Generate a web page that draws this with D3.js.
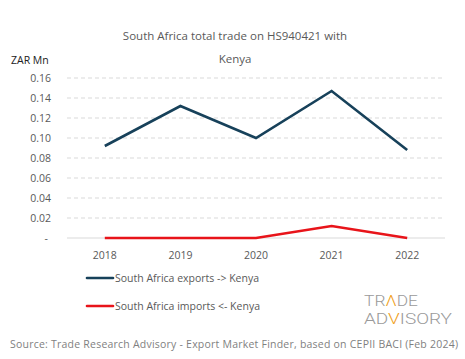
<!DOCTYPE html>
<html><head><meta charset="utf-8">
<script src="https://cdn.jsdelivr.net/npm/d3@7"></script>
<style>body{margin:0;background:#fff}svg{display:block}</style>
</head><body>
<svg id="c" width="465" height="359"></svg>
<script>
const years = ["2018","2019","2020","2021","2022"];
const exportsKenya = [0.092, 0.132, 0.100, 0.147, 0.088];
const importsKenya = [0.0, 0.0, 0.0, 0.012, 0.0];
const yTicks = [0, 0.02, 0.04, 0.06, 0.08, 0.10, 0.12, 0.14, 0.16];
const seriesNames = ["South Africa exports -> Kenya", "South Africa imports <- Kenya"];
const seriesColors = ["#17415a", "#e8141a"];

const svg = d3.select("#c");
const font = "'Open Sans', sans-serif";
const x = d3.scaleBand().domain(years).range([67, 445]);
const y = d3.scaleLinear().domain([0, 0.16]).range([238, 78]);

svg.append("text").attr("x", 235).attr("y", 40).attr("text-anchor","middle")
  .attr("font-family", font).attr("font-size", 11.5).attr("fill","#595959")
  .text("South Africa total trade on HS940421 with");
svg.append("text").attr("x", 235).attr("y", 63).attr("text-anchor","middle")
  .attr("font-family", font).attr("font-size", 11.5).attr("fill","#595959")
  .text("Kenya");
svg.append("text").attr("x", 11).attr("y", 64)
  .attr("font-family", font).attr("font-size", 10.5).attr("fill","#222")
  .text("ZAR Mn");

// grid
const g = svg.append("g");
g.selectAll("line.grid").data(yTicks).join("line")
  .attr("x1", 67).attr("x2", 445)
  .attr("y1", d => y(d)).attr("y2", d => y(d))
  .attr("stroke", "#d9d9d9")
  .attr("stroke-width", 1)
  .attr("stroke-dasharray", d => d === 0 ? null : "4,3");

// y axis labels
const yAxis = d3.axisLeft(y).tickValues(yTicks).tickSize(0).tickPadding(0)
  .tickFormat(d => d === 0 ? "-" : d3.format(".2f")(d));
const ya = svg.append("g").attr("transform","translate(51,0)").call(yAxis);
ya.select(".domain").remove();
ya.selectAll("text").attr("font-family", font).attr("font-size", 10.5).attr("fill","#595959")
  .attr("dy","0.35em");
ya.selectAll(".tick text").filter(d => d === 0).attr("dx", -3);

// x axis labels
const xAxis = d3.axisBottom(x).tickSize(0).tickPadding(0);
const xa = svg.append("g").attr("transform","translate(0,252)").call(xAxis);
xa.select(".domain").remove();
xa.selectAll("text").attr("font-family", font).attr("font-size", 10.5).attr("fill","#595959");

const line = d3.line().x((d,i) => x(years[i]) + x.bandwidth()/2).y(d => y(d));
[exportsKenya, importsKenya].forEach((s, k) => {
  svg.append("path").datum(s).attr("d", line).attr("fill","none")
    .attr("stroke", seriesColors[k]).attr("stroke-width", 2.6)
    .attr("stroke-linejoin","miter");
});

// legend
seriesNames.forEach((n, k) => {
  const ly = 278 + k*28;
  svg.append("line").attr("x1", 87).attr("x2", 113).attr("y1", ly).attr("y2", ly)
    .attr("stroke", seriesColors[k]).attr("stroke-width", 2.6).attr("stroke-linecap","round");
  svg.append("text").attr("x", 115).attr("y", ly + 4)
    .attr("font-family", font).attr("font-size", 10.5).attr("fill","#595959").text(n);
});

// logo
const logo = svg.append("g");
const t1 = logo.append("text").attr("x", 364).attr("y", 306)
  .attr("font-family","Roboto, sans-serif").attr("font-weight",300).attr("font-size", 15)
  .attr("fill","#9a9a9a").attr("textLength", 54).attr("lengthAdjust","spacingAndGlyphs");
t1.append("tspan").text("TR");
t1.append("tspan").attr("fill","#f0a020").text("Λ");
t1.append("tspan").text("DE");
const t2 = logo.append("text").attr("x", 364).attr("y", 324)
  .attr("font-family","Roboto, sans-serif").attr("font-weight",300).attr("font-size", 15)
  .attr("fill","#9a9a9a").attr("textLength", 88).attr("lengthAdjust","spacingAndGlyphs");
t2.append("tspan").text("AD");
t2.append("tspan").attr("fill","#f0a020").text("V");
t2.append("tspan").text("ISORY");

svg.append("text").attr("x", 10).attr("y", 348)
  .attr("font-family", font).attr("font-size", 10.5).attr("fill","#7f7f7f")
  .attr("textLength", 448)
  .text("Source: Trade Research Advisory - Export Market Finder, based on CEPII BACI (Feb 2024)");
</script>
</body></html>
